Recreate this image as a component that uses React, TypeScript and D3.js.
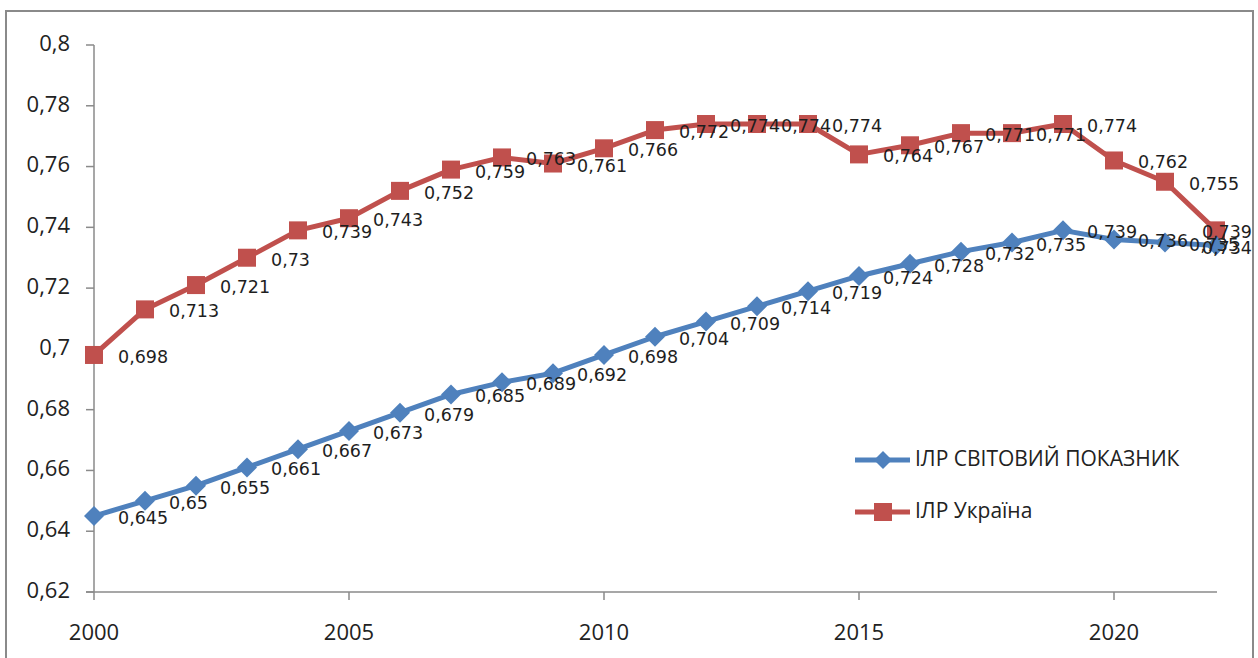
import * as d3 from "d3";

const years = d3.range(2000, 2023);
const worldValues = [
  0.645, 0.65, 0.655, 0.661, 0.667, 0.673, 0.679, 0.685, 0.689, 0.692, 0.698, 0.704,
  0.709, 0.714, 0.719, 0.724, 0.728, 0.732, 0.735, 0.739, 0.736, 0.735, 0.734,
];
const ukraineValues = [
  0.698, 0.713, 0.721, 0.73, 0.739, 0.743, 0.752, 0.759, 0.763, 0.761, 0.766, 0.772,
  0.774, 0.774, 0.774, 0.764, 0.767, 0.771, 0.771, 0.774, 0.762, 0.755, 0.739,
];
const yTicks = [0.62, 0.64, 0.66, 0.68, 0.7, 0.72, 0.74, 0.76, 0.78, 0.8];
const xTicks = [2000, 2005, 2010, 2015, 2020];
const seriesNames = ["ІЛР СВІТОВИЙ ПОКАЗНИК", "ІЛР Україна"];

const W = 1258;
const H = 658;
const BLUE = "#4f81bd";
const RED = "#c0504d";
const AXIS = "#8a8a8a";
const labelFont = "'DejaVu Sans', sans-serif";
const axisFont = "'Open Sans', sans-serif";

const fmt = (v: number) => String(+v.toFixed(3)).replace(".", ",");

const App = () => {
  const x = d3.scaleLinear().domain([2000, 2022]).range([94, 1216]);
  const y = d3.scaleLinear().domain([0.62, 0.8]).range([592, 45]);

  const line = d3
    .line<number>()
    .x((_, i) => x(years[i]))
    .y((d) => y(d));

  const diamond = (cx: number, cy: number, r: number) =>
    `M${cx},${cy - r}L${cx + r},${cy}L${cx},${cy + r}L${cx - r},${cy}Z`;

  const labels = (vals: number[]) =>
    vals.map((v, i) => {
      const last = i === vals.length - 1;
      return (
        <text
          key={i}
          x={last ? 1252 : x(years[i]) + 24}
          y={y(v) + 3}
          textAnchor={last ? "end" : "start"}
          dominantBaseline="middle"
          fontFamily={labelFont}
          fontSize={17.5}
          fill="#1e1e1e"
        >
          {fmt(v)}
        </text>
      );
    });

  return (
    <svg width={W} height={H} style={{ position: "absolute", left: 0, top: 0 }}>
      <rect x={0} y={0} width={W} height={H} fill="#fff" />
      <rect x={6} y={11} width={1247} height={680} fill="none" stroke={AXIS} strokeWidth={2} />

      {/* axes */}
      <line x1={94} x2={94} y1={45} y2={592} stroke={AXIS} strokeWidth={1.5} />
      <line x1={86} x2={1217} y1={592} y2={592} stroke={AXIS} strokeWidth={1.5} />
      {yTicks.map((t) => (
        <g key={t}>
          <line x1={86} x2={94} y1={y(t)} y2={y(t)} stroke={AXIS} strokeWidth={1.5} />
          <text
            x={70}
            y={y(t)}
            textAnchor="end"
            dominantBaseline="middle"
            fontFamily={axisFont}
            fontSize={22}
            fill="#222"
          >
            {fmt(t)}
          </text>
        </g>
      ))}
      {xTicks.map((t) => (
        <g key={t}>
          <line x1={x(t)} x2={x(t)} y1={592} y2={600} stroke={AXIS} strokeWidth={1.5} />
          <text
            x={x(t)}
            y={634}
            textAnchor="middle"
            dominantBaseline="middle"
            fontFamily={axisFont}
            fontSize={22}
            fill="#222"
          >
            {t}
          </text>
        </g>
      ))}

      {/* series */}
      <path d={line(ukraineValues) || ""} fill="none" stroke={RED} strokeWidth={5} strokeLinejoin="round" />
      {ukraineValues.map((v, i) => (
        <rect key={i} x={x(years[i]) - 9} y={y(v) - 9} width={18} height={18} fill={RED} />
      ))}
      <path d={line(worldValues) || ""} fill="none" stroke={BLUE} strokeWidth={5} strokeLinejoin="round" />
      {worldValues.map((v, i) => (
        <path key={i} d={diamond(x(years[i]), y(v), 10)} fill={BLUE} />
      ))}

      {labels(ukraineValues)}
      {labels(worldValues)}

      {/* legend */}
      <line x1={855} x2={910} y1={460} y2={460} stroke={BLUE} strokeWidth={5} />
      <path d={diamond(883, 460, 9)} fill={BLUE} />
      <text x={915} y={460} dominantBaseline="middle" fontFamily={axisFont} fontSize={21} fill="#222">
        {seriesNames[0]}
      </text>
      <line x1={855} x2={910} y1={512} y2={512} stroke={RED} strokeWidth={5} />
      <rect x={874} y={503} width={18} height={18} fill={RED} />
      <text x={915} y={512} dominantBaseline="middle" fontFamily={axisFont} fontSize={21} fill="#222">
        {seriesNames[1]}
      </text>
    </svg>
  );
};

export default App;
